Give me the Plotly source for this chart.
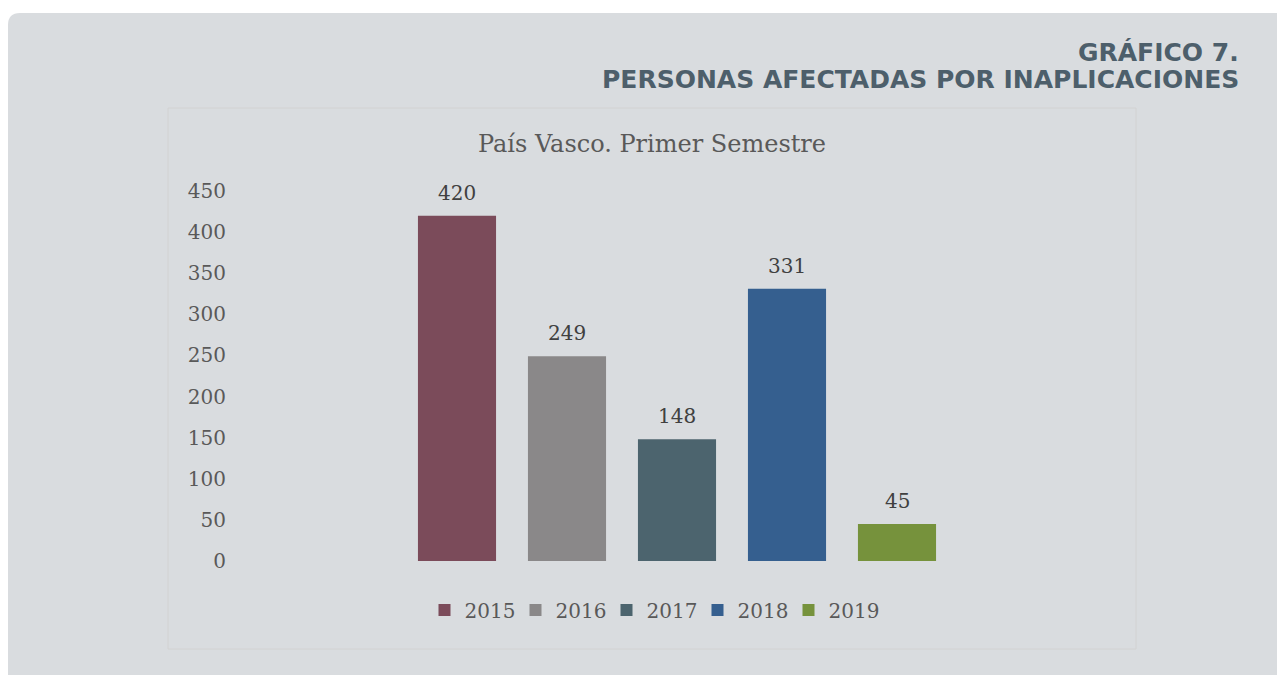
import plotly.graph_objects as go

# ---- data ----
years = ["2015", "2016", "2017", "2018", "2019"]
values = [420, 249, 148, 331, 45]
colors = ["#7b4b5a", "#8a8889", "#4c646e", "#355f8f", "#76923c"]
y_ticks = [0, 50, 100, 150, 200, 250, 300, 350, 400, 450]

header_line1 = "GRÁFICO 7."
header_line2 = "PERSONAS AFECTADAS POR INAPLICACIONES"
chart_title = "País Vasco. Primer Semestre"

# ---- layout geometry (screen pixels; page body adds an 8px offset) ----
OFF = 8
W, H = 1285, 675
L = 240 - OFF
T = 191 - OFF
R = W - (1112 - OFF)
B = H - (561 - OFF)
PW, PH = W - L - R, H - T - B

def px(x):
    return (x - OFF - L) / PW

def py(y):
    return (H - B - (y - OFF)) / PH

CARD = "#d9dcdf"
SERIF = "DejaVu Serif"

fig = go.Figure()
for yr, v, c in zip(years, values, colors):
    fig.add_trace(go.Bar(
        x=[yr], y=[v], name=yr, marker=dict(color=c, line=dict(width=0)),
        width=0.71, cliponaxis=False,
    ))

# value labels (category axis: annotations use category index)
annotations = [
    dict(x=i, y=v, xref="x", yref="y", text=str(v), showarrow=False,
         yanchor="bottom", yshift=9,
         font=dict(family=SERIF, size=20, color="#404040"))
    for i, v in enumerate(values)
]

# card with rounded top-left corner
r = 12
x0, y0, x1, y1 = 8, 13, W + 20, H + 20
card_path = (
    f"M {px(x0)} {py(y0 + r)} "
    f"Q {px(x0)} {py(y0)} {px(x0 + r)} {py(y0)} "
    f"L {px(x1)} {py(y0)} L {px(x1)} {py(y1)} L {px(x0)} {py(y1)} Z"
)

annotations += [
    dict(text=f"<b>{header_line1}</b>", xref="paper", yref="paper",
         x=px(1241), y=py(52), xanchor="right", yanchor="middle",
         showarrow=False,
         font=dict(family="DejaVu Sans", size=25, color="#4d5f6b")),
    dict(text=f"<b>{header_line2}</b>", xref="paper", yref="paper",
         x=px(1241), y=py(79), xanchor="right", yanchor="middle",
         showarrow=False,
         font=dict(family="DejaVu Sans", size=25, color="#4d5f6b")),
]

fig.update_layout(
    width=W, height=H,
    margin=dict(l=L, r=R, t=T, b=B),
    paper_bgcolor="white",
    plot_bgcolor="rgba(0,0,0,0)",
    barmode="overlay",
    showlegend=True,
    font=dict(family=SERIF, color="#595959"),
    title=dict(text=chart_title, x=(652 - OFF) / W, xanchor="center",
               y=1 - (144 - OFF) / H, yanchor="middle",
               font=dict(family=SERIF, size=24, color="#595959")),
    legend=dict(orientation="h", x=px(652), xanchor="center",
                y=py(610), yanchor="middle",
                font=dict(family=SERIF, size=20, color="#595959"),
                bgcolor="rgba(0,0,0,0)", itemwidth=30, entrywidth=46,
                traceorder="normal"),
    xaxis=dict(type="category", range=[(240 - 457) / 110, (1112 - 457) / 110],
               showticklabels=False, showgrid=False, zeroline=False,
               showline=False, ticks="", fixedrange=True),
    yaxis=dict(range=[0, 450], tickvals=y_ticks, showgrid=False,
               zeroline=False, showline=False, ticks="",
               ticklabelstandoff=13, automargin=False,
               tickfont=dict(family=SERIF, size=20, color="#595959")),
    shapes=[
        dict(type="path", xref="paper", yref="paper", path=card_path,
             fillcolor=CARD, line=dict(width=0), layer="below"),
        dict(type="rect", xref="paper", yref="paper",
             x0=px(168), x1=px(1136), y0=py(649), y1=py(108),
             fillcolor="rgba(0,0,0,0)", line=dict(color="#d2d2d2", width=1),
             layer="below"),
    ],
    annotations=annotations,
)

fig.write_html("out.html")
